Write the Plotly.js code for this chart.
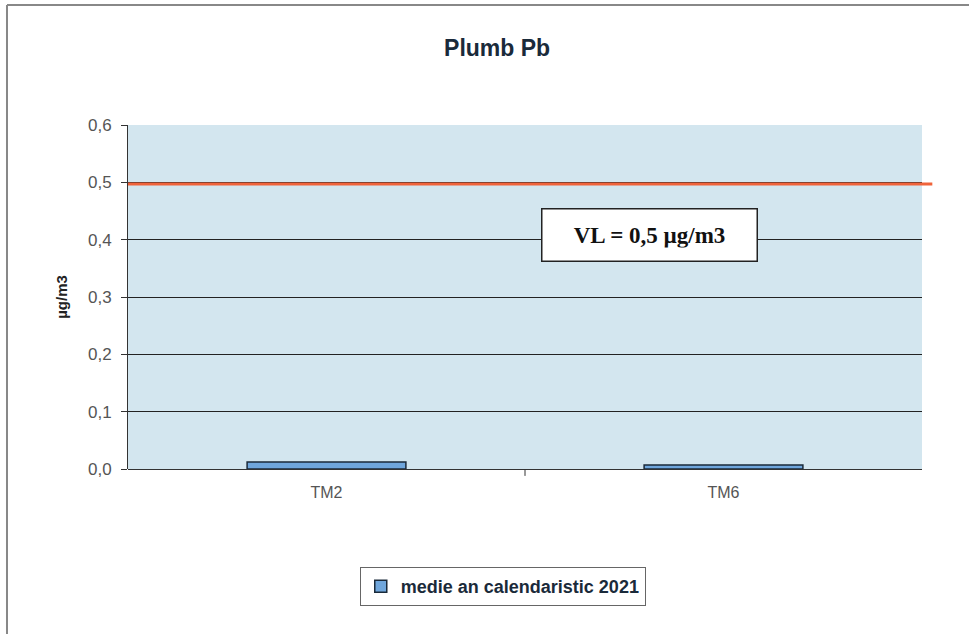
<!DOCTYPE html>
<html><head><meta charset="utf-8">
<script src="https://cdn.plot.ly/plotly-3.0.1.min.js"></script>
<style>html,body{margin:0;padding:0;background:#fff}</style>
</head><body>
<div id="chart" style="width:969px;height:634px"></div>
<script>
const categories = ["TM2", "TM6"];
const values = [0.012, 0.007];
const seriesName = "medie an calendaristic 2021";
const limitValue = 0.497;
const limitLabel = "VL = 0,5 µg/m3";
const yTicks = [0, 0.1, 0.2, 0.3, 0.4, 0.5, 0.6];

const data = [{
  type: "bar", x: categories, y: values, name: "<b>" + seriesName + "</b>",
  width: 0.4,
  marker: {color: "#6fa6dc", line: {color: "#1a2a3a", width: 1.5}},
  showlegend: true
}];

const layout = {
  width: 969, height: 634,
  margin: {l: 128, r: 47, t: 125, b: 165},
  paper_bgcolor: "#ffffff",
  plot_bgcolor: "#d3e6ef",
  separators: ",.",
  font: {family: "Liberation Sans, Arial, sans-serif", color: "#333"},
  title: {text: "<b>Plumb Pb</b>", x: 0.513, xanchor: "center", y: 0.925, yanchor: "middle",
          font: {size: 23, color: "#1a2a3a", family: "Liberation Sans, Arial, sans-serif"}},
  xaxis: {
    type: "category", showgrid: false, zeroline: false,
    showline: false,
    ticks: "", tickfont: {size: 16, color: "#555"},
    ticklabelstandoff: 12
  },
  yaxis: {
    range: [0, 0.6], tickvals: yTicks, tickformat: ".1f",
    showgrid: true, gridcolor: "#222", gridwidth: 1,
    zeroline: true, zerolinecolor: "#333", zerolinewidth: 1,
    showline: true, linecolor: "#333", linewidth: 1,
    ticks: "outside", ticklen: 6, tickcolor: "#333",
    tickfont: {size: 17, color: "#555"}, ticklabelstandoff: 6,
    title: {text: "<b>µg/m3</b>", font: {size: 15, color: "#222"}, standoff: 16}
  },
  shapes: [
    {type: "line", xref: "paper", x0: 0, x1: 1.013, yref: "y", y0: limitValue, y1: limitValue,
     line: {color: "#f0633a", width: 3}},
    {type: "line", xref: "paper", x0: 0.5, x1: 0.5, yref: "paper", y0: 0, y1: -0.02,
     line: {color: "#333", width: 1}},
    {type: "line", xref: "paper", yref: "paper", x0: -0.1524, x1: 1.06, y0: 1.349, y1: 1.349,
     line: {color: "#888", width: 2}},
    {type: "line", xref: "paper", yref: "paper", x0: -0.1524, x1: -0.1524, y0: 1.349, y1: -0.49,
     line: {color: "#888", width: 2}}
  ],
  annotations: [{
    xref: "paper", yref: "y", x: 0.657, y: 0.408, text: "<b>" + limitLabel + "</b>",
    showarrow: false, bgcolor: "#ffffff", bordercolor: "#222", borderwidth: 1.5,
    borderpad: 13, width: 188, align: "center",
    font: {family: "Liberation Serif, Times New Roman, serif", size: 23, color: "#111"}
  }],
  legend: {
    orientation: "h", x: 0.472, xanchor: "center", y: -0.285, yanchor: "top",
    bordercolor: "#666", borderwidth: 1, bgcolor: "#fff",
    font: {size: 18, color: "#1a2a3a", family: "Liberation Sans, Arial, sans-serif"},
    itemwidth: 30, tracegroupgap: 0
  }
};

Plotly.newPlot("chart", data, layout, {displayModeBar: false, staticPlot: true});
</script>
</body></html>
